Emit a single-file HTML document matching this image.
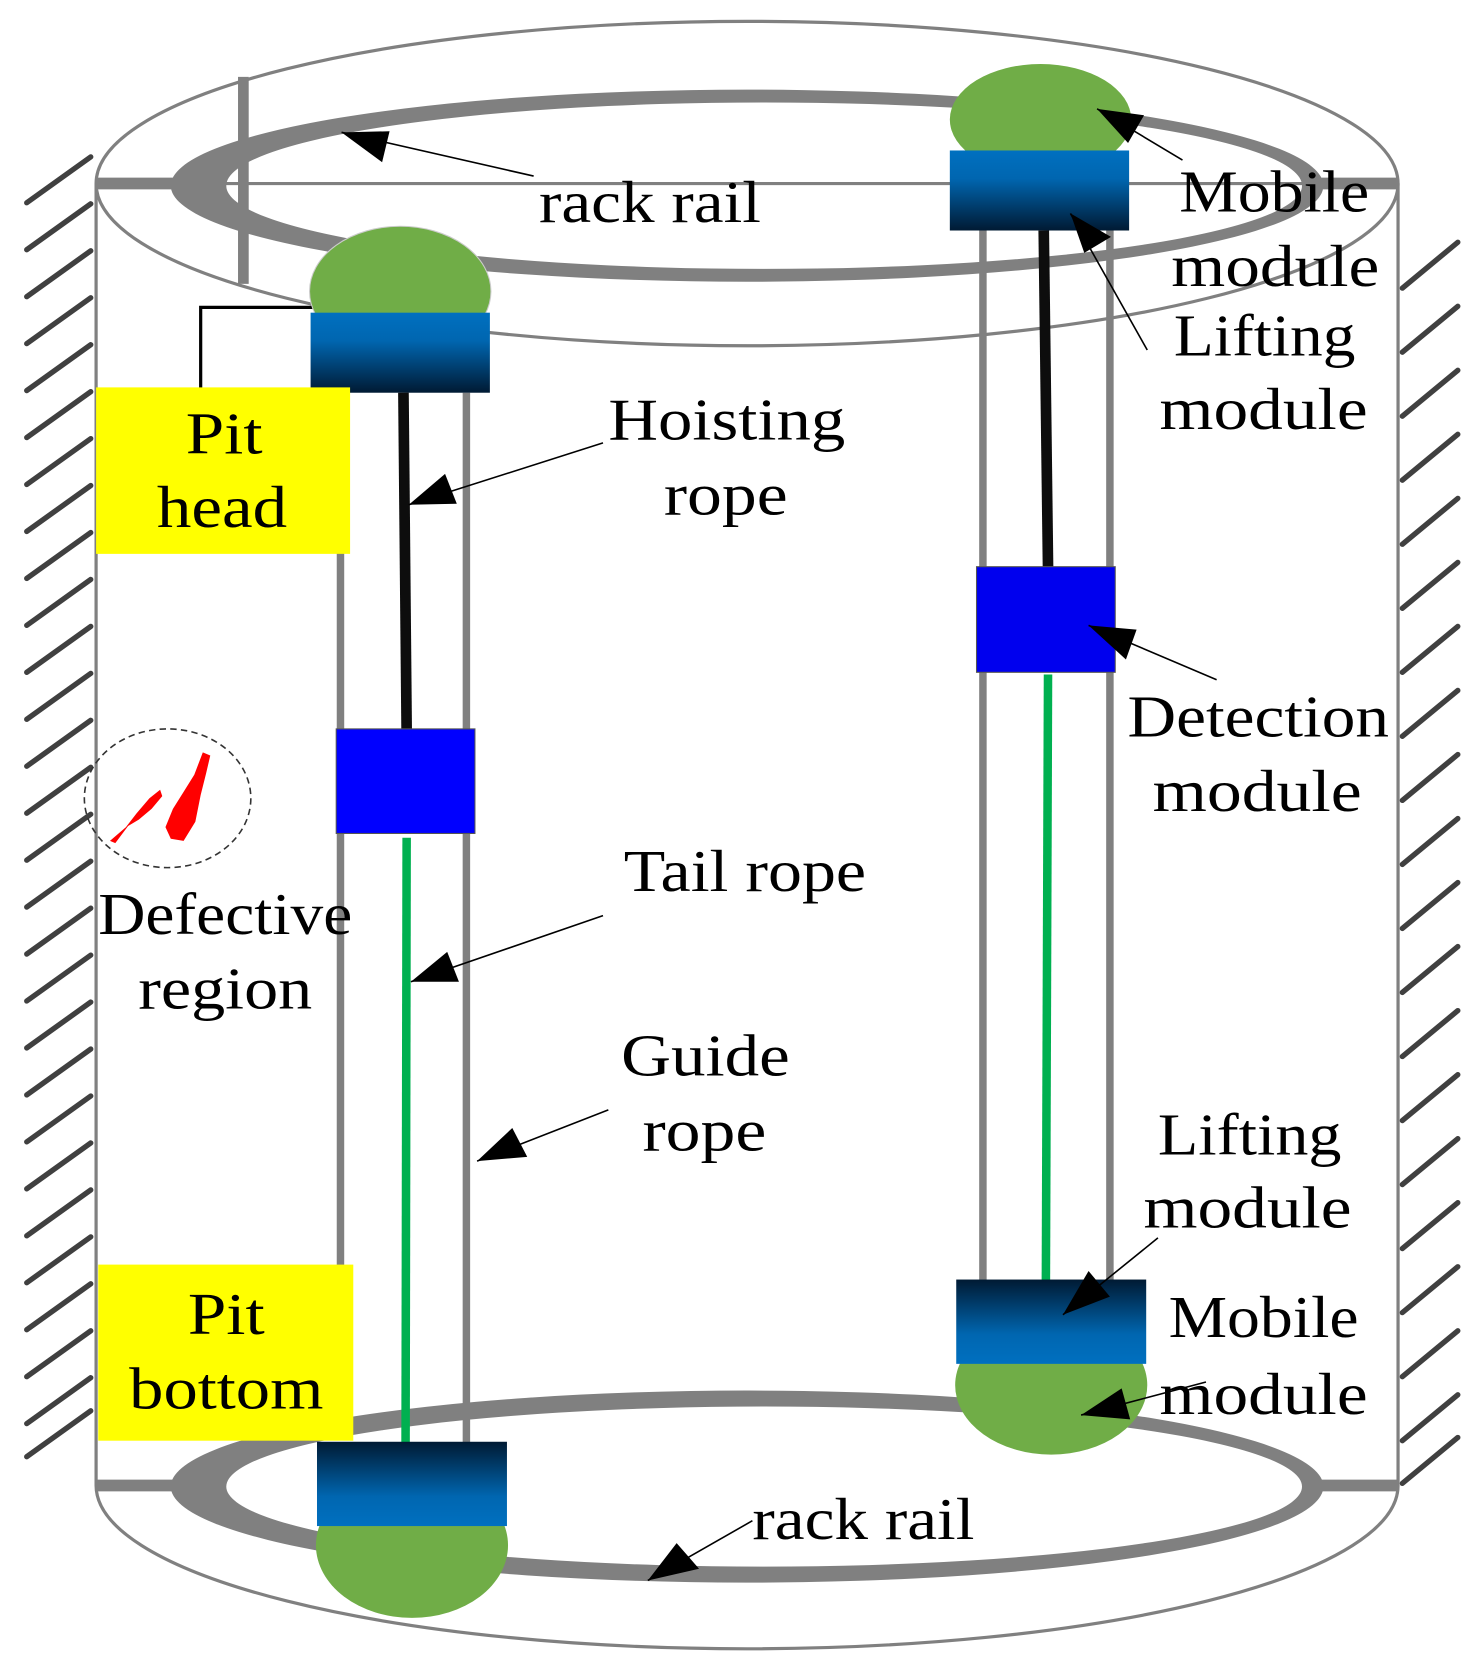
<!DOCTYPE html>
<html><head><meta charset="utf-8"><style>
html,body{margin:0;padding:0;background:#fff}
svg{display:block}
text{font-family:"Liberation Serif",serif;font-size:56px;fill:#000;text-anchor:middle}
</style></head><body>
<svg width="1476" height="1668" viewBox="0 0 1383 1563" xmlns="http://www.w3.org/2000/svg">
<defs>
<linearGradient id="gd" x1="0" y1="0" x2="0" y2="1"><stop offset="0" stop-color="#0070c0"/><stop offset="0.35" stop-color="#0066b0"/><stop offset="1" stop-color="#001a33"/></linearGradient>
<linearGradient id="gu" x1="0" y1="1" x2="0" y2="0"><stop offset="0" stop-color="#0070c0"/><stop offset="0.35" stop-color="#0066b0"/><stop offset="1" stop-color="#001a33"/></linearGradient>
</defs>
<g stroke="#404040" stroke-width="5" stroke-linecap="round">
<g>
<line x1="25" y1="190" x2="85" y2="147"/><line x1="25" y1="234" x2="85" y2="191"/><line x1="25" y1="278" x2="85" y2="235"/><line x1="25" y1="322" x2="85" y2="279"/><line x1="25" y1="366" x2="85" y2="323"/><line x1="25" y1="410" x2="85" y2="367"/><line x1="25" y1="454" x2="85" y2="411"/><line x1="25" y1="498" x2="85" y2="455"/><line x1="25" y1="542" x2="85" y2="499"/><line x1="25" y1="586" x2="85" y2="543"/><line x1="25" y1="630" x2="85" y2="587"/><line x1="25" y1="674" x2="85" y2="631"/><line x1="25" y1="718" x2="85" y2="675"/><line x1="25" y1="762" x2="85" y2="719"/><line x1="25" y1="806" x2="85" y2="763"/><line x1="25" y1="850" x2="85" y2="807"/><line x1="25" y1="894" x2="85" y2="851"/><line x1="25" y1="938" x2="85" y2="895"/><line x1="25" y1="982" x2="85" y2="939"/><line x1="25" y1="1026" x2="85" y2="983"/><line x1="25" y1="1070" x2="85" y2="1027"/><line x1="25" y1="1114" x2="85" y2="1071"/><line x1="25" y1="1158" x2="85" y2="1115"/><line x1="25" y1="1202" x2="85" y2="1159"/><line x1="25" y1="1246" x2="85" y2="1203"/><line x1="25" y1="1290" x2="85" y2="1247"/><line x1="25" y1="1334" x2="85" y2="1291"/><line x1="25" y1="1365" x2="85" y2="1322"/>
</g>
<g transform="translate(1289,80)">
<line x1="25" y1="190" x2="77" y2="147"/><line x1="25" y1="250" x2="77" y2="207"/><line x1="25" y1="310" x2="77" y2="267"/><line x1="25" y1="370" x2="77" y2="327"/><line x1="25" y1="430" x2="77" y2="387"/><line x1="25" y1="490" x2="77" y2="447"/><line x1="25" y1="550" x2="77" y2="507"/><line x1="25" y1="610" x2="77" y2="567"/><line x1="25" y1="670" x2="77" y2="627"/><line x1="25" y1="730" x2="77" y2="687"/><line x1="25" y1="790" x2="77" y2="747"/><line x1="25" y1="850" x2="77" y2="807"/><line x1="25" y1="910" x2="77" y2="867"/><line x1="25" y1="970" x2="77" y2="927"/><line x1="25" y1="1030" x2="77" y2="987"/><line x1="25" y1="1090" x2="77" y2="1047"/><line x1="25" y1="1150" x2="77" y2="1107"/><line x1="25" y1="1210" x2="77" y2="1167"/><line x1="25" y1="1270" x2="77" y2="1227"/><line x1="25" y1="1310" x2="77" y2="1267"/>
</g>
</g>
<g fill="none" stroke="#808080" stroke-width="3">
<ellipse cx="700" cy="172" rx="610" ry="152"/>
<line x1="90" y1="172" x2="90" y2="1392"/><line x1="1310" y1="172" x2="1310" y2="1392"/>
<path d="M90,1392 A610,153 0 0 0 1310,1392"/>
</g>
<g stroke="#808080">
<line x1="228" y1="72" x2="228" y2="266" stroke-width="10"/>
<line x1="90" y1="172" x2="170" y2="172" stroke-width="11"/><line x1="1235" y1="172" x2="1310" y2="172" stroke-width="11"/>
<line x1="170" y1="172" x2="1240" y2="172" stroke-width="3"/>
<line x1="90" y1="1392" x2="170" y2="1392" stroke-width="11"/><line x1="1235" y1="1392" x2="1310" y2="1392" stroke-width="11"/>
</g>
<path fill="#808080" fill-rule="evenodd" d="M160,174 a540,90 0 1 0 1080,0 a540,90 0 1 0 -1080,0 Z M212,174 a504,78 0 1 0 1008,0 a504,78 0 1 0 -1008,0 Z"/>
<path fill="#808080" fill-rule="evenodd" d="M160,1393 a540,90 0 1 0 1080,0 a540,90 0 1 0 -1080,0 Z M212,1393 a504,75 0 1 0 1008,0 a504,75 0 1 0 -1008,0 Z"/>
<g stroke="#808080" stroke-width="7">
<line x1="319" y1="368" x2="319" y2="1190"/><line x1="437" y1="368" x2="437" y2="1352"/>
<line x1="921" y1="216" x2="921" y2="1200"/><line x1="1040" y1="216" x2="1040" y2="1200"/>
</g>
<polyline points="188,365 188,288 293,288" fill="none" stroke="#000" stroke-width="3"/>
<ellipse cx="375" cy="273" rx="85" ry="61" fill="#70ad47" stroke="#ccc" stroke-width="1"/>
<rect x="291" y="293" width="168" height="75" fill="url(#gd)"/>
<line x1="378" y1="368" x2="381" y2="684" stroke="#0d0d0d" stroke-width="10"/>
<rect x="315" y="683" width="130" height="98" fill="#0000ff" stroke="#555" stroke-width="1"/>
<line x1="381" y1="785" x2="380" y2="1352" stroke="#00b050" stroke-width="8"/>
<ellipse cx="386" cy="1448" rx="90" ry="68" fill="#70ad47"/>
<rect x="297" y="1351" width="178" height="79" fill="url(#gu)"/>
<ellipse cx="975" cy="112" rx="85" ry="52" fill="#70ad47"/>
<rect x="890" y="141" width="168" height="75" fill="url(#gd)"/>
<line x1="978" y1="216" x2="982" y2="531" stroke="#0d0d0d" stroke-width="10"/>
<rect x="915" y="531" width="130" height="99" fill="#0000ee" stroke="#555" stroke-width="1"/>
<line x1="982" y1="632" x2="980" y2="1200" stroke="#00b050" stroke-width="8"/>
<ellipse cx="985" cy="1298" rx="90" ry="65" fill="#70ad47"/>
<rect x="896" y="1199" width="178" height="79" fill="url(#gu)"/>
<rect x="90" y="363" width="238" height="156" fill="#ffff00"/>
<rect x="92" y="1185" width="239" height="165" fill="#ffff00"/>
<ellipse cx="157" cy="748" rx="78" ry="65" fill="none" stroke="#333" stroke-width="1.5" stroke-dasharray="6,4"/>
<path d="M103,788 L118,775 L128,762 L140,748 L150,740 L152,746 L142,758 L130,768 L120,774 L108,790 Z" fill="#ff0000"/>
<path d="M190,705 L197,708 L193,725 L188,745 L183,770 L172,788 L160,786 L155,775 L162,758 L172,742 L182,726 Z" fill="#ff0000"/>
<g stroke="#000" stroke-width="1.5" fill="none">
<line x1="500" y1="165" x2="320" y2="124"/>
<line x1="1108" y1="150" x2="1028" y2="102"/>
<line x1="1075" y1="328" x2="1003" y2="200"/>
<line x1="565" y1="415" x2="383" y2="473"/>
<line x1="1140" y1="637" x2="1020" y2="586"/>
<line x1="565" y1="858" x2="385" y2="920"/>
<line x1="570" y1="1040" x2="447" y2="1088"/>
<line x1="1085" y1="1160" x2="996" y2="1232"/>
<line x1="1130" y1="1295" x2="1013" y2="1326"/>
<line x1="705" y1="1425" x2="607" y2="1481"/>
</g>
<g fill="#000">
<polygon points="320,124 365,123 358,152"/>
<polygon points="1028,102 1072,108 1057,134"/>
<polygon points="1003,200 1041,222 1016,237"/>
<polygon points="383,473 417,444 428,472"/>
<polygon points="1020,586 1065,590 1055,618"/>
<polygon points="385,920 419,892 430,920"/>
<polygon points="447,1088 480,1057 494,1084"/>
<polygon points="996,1232 1020,1191 1040,1215"/>
<polygon points="1013,1326 1051,1301 1059,1330"/>
<polygon points="607,1481 634,1446 655,1470"/>
</g>
<g lengthAdjust="spacingAndGlyphs">
<text x="609" y="208" textLength="208" lengthAdjust="spacingAndGlyphs">rack rail</text>
<text x="1194" y="198" textLength="178" lengthAdjust="spacingAndGlyphs">Mobile</text>
<text x="1195" y="268" textLength="195" lengthAdjust="spacingAndGlyphs">module</text>
<text x="1185" y="333" textLength="170" lengthAdjust="spacingAndGlyphs">Lifting</text>
<text x="1184" y="402" textLength="195" lengthAdjust="spacingAndGlyphs">module</text>
<text x="681" y="412" textLength="222" lengthAdjust="spacingAndGlyphs">Hoisting</text>
<text x="680" y="482" textLength="116" lengthAdjust="spacingAndGlyphs">rope</text>
<text x="1179" y="690" textLength="245" lengthAdjust="spacingAndGlyphs">Detection</text>
<text x="1178" y="760" textLength="196" lengthAdjust="spacingAndGlyphs">module</text>
<text x="698" y="835" textLength="227" lengthAdjust="spacingAndGlyphs">Tail rope</text>
<text x="211" y="875" textLength="238" lengthAdjust="spacingAndGlyphs">Defective</text>
<text x="211" y="945" textLength="163" lengthAdjust="spacingAndGlyphs">region</text>
<text x="661" y="1008" textLength="158" lengthAdjust="spacingAndGlyphs">Guide</text>
<text x="660" y="1078" textLength="116" lengthAdjust="spacingAndGlyphs">rope</text>
<text x="1171" y="1082" textLength="172" lengthAdjust="spacingAndGlyphs">Lifting</text>
<text x="1169" y="1150" textLength="195" lengthAdjust="spacingAndGlyphs">module</text>
<text x="1184" y="1253" textLength="178" lengthAdjust="spacingAndGlyphs">Mobile</text>
<text x="1184" y="1325" textLength="195" lengthAdjust="spacingAndGlyphs">module</text>
<text x="809" y="1442" textLength="208" lengthAdjust="spacingAndGlyphs">rack rail</text>
<text x="210" y="425" textLength="72" lengthAdjust="spacingAndGlyphs">Pit</text>
<text x="208" y="494" textLength="122" lengthAdjust="spacingAndGlyphs">head</text>
<text x="212" y="1250" textLength="72" lengthAdjust="spacingAndGlyphs">Pit</text>
<text x="212" y="1320" textLength="182" lengthAdjust="spacingAndGlyphs">bottom</text>
</g>
</svg>
</body></html>
